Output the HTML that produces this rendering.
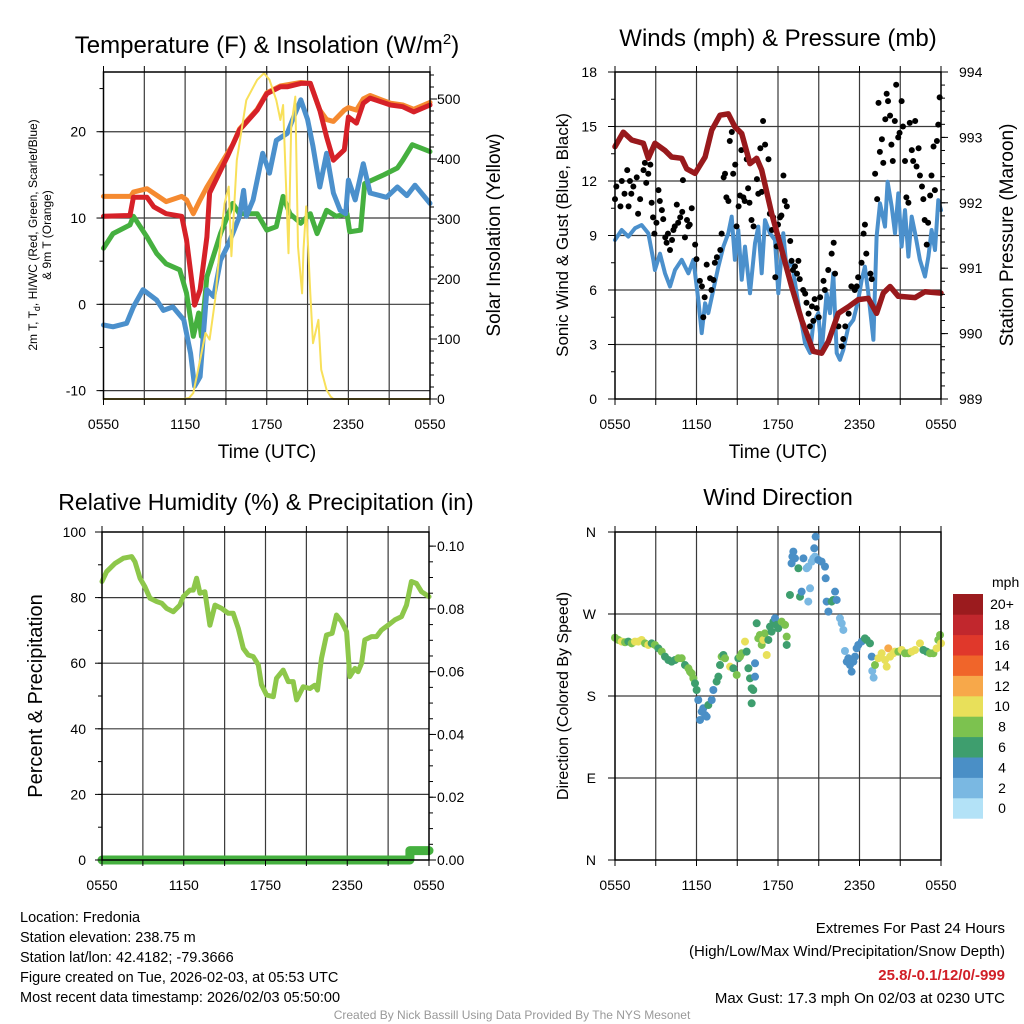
<!DOCTYPE html>
<html><head><meta charset="utf-8"><style>
html,body{margin:0;padding:0;background:#fff;}
svg{display:block;font-family:"Liberation Sans",Arial,sans-serif;}
</style></head><body>
<svg id="fig" xmlns="http://www.w3.org/2000/svg" width="1024" height="1024" viewBox="0 0 1024 1024">
<rect width="1024" height="1024" fill="#fff"/>
<g id="layer"></g>
<text x="267" y="53" font-size="24" text-anchor="middle">Temperature (F) &amp; Insolation (W/m<tspan font-size="15" dy="-9">2</tspan><tspan dy="9">)</tspan></text>
<text x="778" y="46" font-size="24" text-anchor="middle">Winds (mph) &amp; Pressure (mb)</text>
<text x="266" y="510" font-size="23" text-anchor="middle">Relative Humidity (%) &amp; Precipitation (in)</text>
<text x="778" y="505" font-size="23" text-anchor="middle">Wind Direction</text>
<text x="267" y="458" font-size="19" text-anchor="middle">Time (UTC)</text>
<text x="778" y="458" font-size="19" text-anchor="middle">Time (UTC)</text>
<text transform="translate(37,235) rotate(-90)" font-size="12" text-anchor="middle">2m T, T<tspan font-size="9" dy="3">d</tspan><tspan dy="-3">, HI/WC (Red, Green, Scarlet/Blue)</tspan></text>
<text transform="translate(51,235) rotate(-90)" font-size="12" text-anchor="middle">&amp; 9m T (Orange)</text>
<text transform="translate(500,235) rotate(-90)" font-size="19" text-anchor="middle">Solar Insolation (Yellow)</text>
<text transform="translate(568,235) rotate(-90)" font-size="17" text-anchor="middle">Sonic Wind &amp; Gust (Blue, Black)</text>
<text transform="translate(1013,235) rotate(-90)" font-size="19" text-anchor="middle">Station Pressure (Maroon)</text>
<text transform="translate(42,696) rotate(-90)" font-size="20" text-anchor="middle">Percent &amp; Precipitation</text>
<text transform="translate(568,696) rotate(-90)" font-size="16" text-anchor="middle">Direction (Colored By Speed)</text>
<text x="992" y="587" font-size="14">mph</text>
<g font-size="14.5" fill="#000">
<text x="20" y="922">Location: Fredonia</text>
<text x="20" y="942">Station elevation: 238.75 m</text>
<text x="20" y="962">Station lat/lon: 42.4182; -79.3666</text>
<text x="20" y="982">Figure created on Tue, 2026-02-03, at 05:53 UTC</text>
<text x="20" y="1002">Most recent data timestamp: 2026/02/03 05:50:00</text>
</g>
<g font-size="15" text-anchor="end">
<text x="1005" y="933">Extremes For Past 24 Hours</text>
<text x="1005" y="956">(High/Low/Max Wind/Precipitation/Snow Depth)</text>
<text x="1005" y="980" fill="#d11f27" font-weight="bold">25.8/-0.1/12/0/-999</text>
<text x="1005" y="1003">Max Gust: 17.3 mph On 02/03 at 0230 UTC</text>
</g>
<text x="512" y="1019" font-size="12" fill="#999" text-anchor="middle">Created By Nick Bassill Using Data Provided By The NYS Mesonet</text>
</svg>
<script>
// ---------- data ----------
const xTickLabels = ["0550","1150","1750","2350","0550"];
const redT = [0,1.95,2.2,3.2,3.7,4.6,5.75,6.1,6.6,6.7,7.1,7.6,7.8,9.1,10.0,11.3,12.0,13.0,13.5,14.5,15.2,15.9,16.4,16.9,17.7,18.0,18.6,19.1,19.6,21.1,22.0,22.8,24];
const redV = [10.2,10.3,12.4,12.4,11.3,10.5,10.2,7.5,1.3,-0.1,1.7,7.8,12.9,17.1,20.2,22.5,24.4,25.2,25.2,25.6,25.6,22.5,19.4,16.7,17.9,21.7,21.0,23.3,23.9,23.1,22.9,22.3,23.1];
const orangeT = [0,2.0,2.2,3.2,4.6,5.75,6.1,6.6,7.1,7.6,8.5,9.5,10.0,11.3,12.0,13.0,14.5,15.2,15.9,16.4,16.9,17.7,18.0,18.6,19.1,19.6,21.1,22.0,22.8,24];
const orangeV = [12.5,12.5,13.0,13.4,11.9,12.5,12.1,10.5,12.1,13.6,15.9,18.5,20.3,22.6,24.5,25.3,25.7,25.6,22.5,21.4,21.2,22.5,22.8,22.5,23.8,24.2,23.3,23.1,22.6,23.4];
const greenT = [0,0.7,1.95,2.2,3.2,3.9,4.6,5.6,6.1,6.6,7.0,7.2,7.6,8.6,9.5,10.0,11.3,12.0,12.7,13.2,13.7,14.5,15.2,15.7,16.4,17.1,17.9,18.1,18.9,19.2,20.6,21.6,22.0,22.7,24];
const greenV = [6.5,8.2,9.2,10.2,7.8,5.9,4.7,4.0,1.3,-3.7,-1.0,-3.7,3.2,8.2,11.7,10.5,10.5,8.6,9.0,12.5,10.5,9.4,10.5,8.2,10.9,10.2,10.5,8.4,8.6,14.0,15.0,15.8,16.7,18.5,17.7];
const blueT = [0,0.7,1.7,2.2,2.9,3.9,4.4,5.1,5.9,6.4,6.7,7.1,7.6,8.1,8.6,9.1,9.5,10.0,10.3,10.5,11.0,11.7,12.2,12.7,13.5,13.9,14.5,15.0,15.4,15.9,16.4,16.9,17.4,17.8,18.0,18.5,19.1,19.6,20.8,21.6,22.3,22.9,24];
const blueV = [-2.4,-2.6,-2.2,-0.3,1.7,0.5,-0.7,-0.3,-1.8,-5.7,-9.5,-8.4,1.7,0.9,5.1,6.7,8.2,10.2,13.2,10.2,12.1,17.5,15.2,19.0,19.8,21.4,23.7,21.4,18.3,13.6,17.5,12.9,10.9,10.5,14.4,12.1,16.3,12.9,12.4,13.6,12.6,13.8,11.7];
const solarT = [0,5.9,6.3,6.6,7.1,7.5,7.8,8.2,8.6,8.9,9.2,9.4,9.8,10.5,11.3,11.8,12.2,12.7,13.0,13.2,13.6,13.8,14.1,14.3,14.6,14.7,14.9,15.2,15.4,15.8,16.0,16.4,16.7,16.9,24];
const solarV = [0,0,2,10,65,110,99,165,265,326,354,238,398,498,532,543,532,498,465,490,243,454,504,254,176,249,321,176,93,132,49,15,4,0,0];
const tempTicks = [-10,0,10,20];
const solarTicks = [0,100,200,300,400,500];

const presT = [0,0.61,1.23,2.09,2.45,2.94,3.68,4.17,4.91,5.28,5.89,6.63,7.12,7.73,8.34,8.83,9.33,9.94,10.43,10.8,11.53,12.27,13.0,13.74,14.6,15.21,15.71,16.44,17.18,17.91,18.65,19.26,19.75,20.25,20.86,22.09,22.82,24];
const presV = [992.86,993.08,992.96,992.91,992.68,992.91,992.80,992.70,992.68,992.52,992.45,992.70,993.11,993.34,993.36,993.16,993.06,992.60,992.68,992.50,991.84,991.28,990.72,990.21,989.73,989.70,989.88,990.31,990.41,990.52,990.54,990.31,990.62,990.72,990.57,990.55,990.64,990.62];
const windT = [0,0.49,0.98,1.47,1.96,2.45,2.82,2.94,3.31,3.68,4.05,4.42,4.91,5.4,5.77,6.13,6.38,6.63,6.87,7.24,7.61,7.98,8.34,8.59,8.83,9.08,9.33,9.57,9.94,10.31,10.55,10.8,11.04,11.41,11.78,12.02,12.39,12.64,13.0,13.37,13.74,13.99,14.36,14.6,14.97,15.21,15.58,15.83,16.07,16.32,16.56,16.81,17.18,17.55,17.91,18.16,18.4,18.65,19.02,19.26,19.51,19.88,20.07,20.37,20.61,20.86,21.1,21.35,21.6,21.84,22.09,22.45,22.82,23.07,23.31,23.56,23.8,24];
const windV = [8.75,9.3,8.94,9.4,9.58,9.12,7.66,7.1,8.0,6.92,6.19,7.1,7.66,6.92,7.66,5.46,3.63,5.27,4.73,6.0,7.29,8.39,9.12,10.04,7.66,9.3,6.56,8.39,5.82,8.57,9.49,6.92,9.85,9.12,8.75,5.82,9.12,7.1,7.66,5.82,4.18,3.08,2.53,4.18,4.73,2.53,5.82,4.73,6.92,2.53,2.16,2.71,3.99,4.36,5.46,6.56,7.29,5.82,3.26,8.94,10.77,9.49,11.96,10.59,9.12,11.32,8.39,10.4,7.84,10.04,9.12,7.66,6.74,7.84,9.3,8.2,10.95,10.4];
const gustT = [0,0.1,0.4,0.5,0.7,0.9,1.0,1.1,1.2,1.35,1.6,1.7,1.85,2.1,2.2,2.3,2.45,2.6,2.7,2.8,2.9,3.05,3.2,3.3,3.45,3.55,3.7,3.8,3.9,4.05,4.2,4.3,4.4,4.55,4.65,4.8,4.95,5.15,5.3,5.4,5.5,5.65,5.0,5.9,6.0,6.25,6.4,6.5,6.6,6.75,7.0,7.1,7.25,7.35,7.5,7.75,7.85,8.0,8.1,8.2,8.35,8.45,8.6,8.7,8.85,8.95,9.1,9.2,9.3,9.45,9.55,9.7,9.8,9.9,10.05,10.2,10.45,10.55,10.7,10.8,10.9,11.05,11.3,11.4,11.55,11.65,11.8,11.9,12.0,12.15,12.25,12.4,12.5,12.65,12.9,13.0,13.1,13.25,13.4,13.5,13.6,13.85,14.0,14.1,14.25,14.35,14.5,14.6,14.7,14.85,15.0,15.1,15.35,15.45,15.7,15.95,16.1,16.2,16.45,16.7,16.8,16.95,17.2,17.4,17.65,17.8,17.9,18.15,18.3,18.4,18.5,18.8,18.9,19.15,19.3,19.4,19.5,19.65,19.75,19.9,20.0,20.1,20.25,20.35,20.45,20.6,20.7,20.85,20.95,21.1,21.2,21.35,21.45,21.6,21.7,21.85,21.95,22.1,22.2,22.35,22.45,22.6,22.7,22.8,22.95,23.05,23.2,23.3,23.45,23.55,23.7,23.8,23.9];
const gustV = [11.0,11.7,10.6,12.0,11.3,12.6,10.6,12.0,11.3,11.7,12.2,10.2,11.0,12.6,13.0,11.9,12.4,12.9,10.8,10.0,9.1,9.7,11.5,10.9,10.4,9.9,8.9,8.6,9.1,8.2,8.75,9.3,9.5,10.7,9.7,10.0,10.3,8.9,9.85,9.5,9.6,10.5,12.05,8.5,7.7,6.5,6.2,4.5,5.6,7.4,6.65,6.0,6.55,7.5,7.8,8.2,9.1,12.2,12.4,11.1,10.9,14.2,14.7,12.4,12.9,9.5,10.6,11.2,13.7,11.1,10.9,13.2,11.6,10.8,9.85,9.5,12.1,11.3,13.8,11.4,15.3,14.0,13.2,10.2,9.3,10.0,6.7,8.4,9.6,10.0,10.1,12.3,10.9,10.6,8.7,7.6,7.1,7.3,6.9,7.6,6.6,6.0,5.8,5.3,4.7,4.0,5.1,4.3,5.5,5.0,4.5,5.6,6.5,6.0,7.1,8.0,8.6,6.9,4.0,2.9,3.3,4.0,4.7,6.2,6.0,6.2,6.7,7.5,9.1,9.6,8.0,6.9,6.6,12.4,11.0,16.3,13.6,14.3,13.0,15.4,16.8,16.4,15.6,14.0,13.1,15.3,17.3,14.4,14.65,16.4,15.0,13.1,11.1,10.8,15.2,13.7,13.1,15.3,12.8,13.8,12.3,11.7,11.0,9.85,8.5,9.7,11.2,12.3,13.9,11.5,14.2,15.1,16.6];
const windTicks = [0,3,6,9,12,15,18];
const presTicks = [989,990,991,992,993,994];

const rhT = [0,0.34,0.95,1.56,2.18,2.42,2.79,3.15,3.52,4.01,4.38,4.74,5.23,5.72,5.97,6.45,6.7,6.94,7.19,7.55,7.92,8.29,8.78,9.27,9.63,10.0,10.37,10.73,11.1,11.47,11.71,12.08,12.57,12.81,13.3,13.67,14.03,14.28,14.77,15.26,15.62,15.82,16.11,16.48,16.89,17.21,17.58,17.95,18.19,18.56,18.8,19.05,19.29,19.78,20.15,20.51,21.0,21.49,21.98,22.35,22.71,23.08,23.45,24];
const rhV = [84.9,87.9,90.4,92.0,92.5,90.9,85.9,83.3,79.8,78.8,78.3,76.7,75.7,77.7,80.3,82.3,82.3,85.9,81.3,81.8,71.6,77.7,76.7,75.2,75.2,70.6,64.5,62.5,62.0,59.5,53.4,50.3,49.8,55.4,57.9,54.4,54.4,48.8,52.8,52.3,53.3,51.8,61.5,68.6,69.1,74.7,72.7,69.6,55.9,58.4,57.4,60.0,67.1,68.1,68.1,70.1,71.6,73.2,74.2,77.7,84.9,84.3,81.8,80.3];
const precipT = [0,22.6,22.6,24];
const precipV = [0,0,0.003,0.003];
const rhTicks = [0,20,40,60,80,100];
const precipTicks = ["0.00","0.02","0.04","0.06","0.08","0.10"];

const dirT = [0,0.25,0.49,0.74,0.98,1.23,1.47,1.72,1.96,2.21,2.45,2.7,2.94,3.19,3.44,3.68,3.93,4.17,4.42,4.66,4.91,5.15,5.4,5.52,5.64,5.77,5.89,6.01,6.13,6.26,6.38,6.5,6.63,6.75,6.87,7.12,7.24,7.48,7.61,7.73,7.85,7.98,8.1,8.47,8.71,8.96,9.08,9.2,9.33,9.57,9.69,9.82,9.94,10.06,10.06,10.18,10.31,10.31,10.43,10.55,10.67,10.8,10.92,11.04,11.17,11.29,11.41,11.53,11.66,11.78,11.9,12.02,12.27,12.52,12.64,12.64,12.88,13.0,13.06,13.13,13.25,13.5,13.62,13.74,13.87,14.11,14.23,14.36,14.23,14.48,14.6,14.72,14.67,14.77,14.97,15.21,15.46,15.51,15.58,15.71,15.95,16.07,16.2,16.32,16.56,16.69,16.81,16.93,17.06,17.18,17.3,17.42,17.55,17.67,17.79,17.91,18.16,18.4,18.53,18.77,18.9,18.94,19.04,19.14,19.39,19.63,19.88,20.0,20.12,20.25,20.49,20.61,20.86,21.1,21.35,21.6,21.84,22.09,22.45,22.7,22.94,23.19,23.44,23.68,23.8,23.93,24];
const dirD = [244,241.5,239.7,239,239.7,237.8,239.7,239.7,241.5,237.8,236,237.8,236,232.3,228.7,223.2,219.5,217.7,219.5,221.4,221.4,214,210.4,206.7,204.9,199.4,193.9,186.6,175.6,153.7,162.8,166.5,159.2,157.3,170.1,175.6,186.6,195.8,201.2,214,223.2,225,221.4,212.2,210.4,203.1,221.4,223.2,226.9,239.7,228.7,210.4,199.4,188.4,172,186.6,201.2,215.9,259.8,243.3,247,236,241.5,248.8,225,241.5,256.1,250.6,261.6,265.3,258,254.3,261.6,258,245.1,236,290.9,325.6,333,338.5,331.1,320.2,289,294.5,331.1,320.2,322,298.2,283.6,327.5,331.1,333,342.1,354.9,329.3,327.5,322,309.2,283.6,272.6,283.6,285.4,294.5,285.4,265.3,259.8,252.5,229.4,217.7,221.4,214,206.7,217.7,223.2,232.3,236,239.7,243.3,241.5,237.8,223.2,207.5,200.1,214,221.4,226.9,219.5,212.2,232.3,223.2,226.9,228.7,228.7,230.5,226.9,226.9,228.7,230.5,237.8,230.5,228.7,226.9,226.9,232.3,241.5,247,237.8];
const dirS = [9,9,11,9,7,9,11,11,11,9,11,7,9,7,9,7,7,7,7,9,9,7,9,9,9,9,7,7,5,5,5,5,5,5,7,5,5,7,7,7,9,7,9,11,7,9,7,9,9,11,7,7,7,7,7,7,5,5,7,9,9,9,11,9,11,7,7,7,7,5,7,7,9,9,9,7,7,5,5,5,5,7,7,5,5,3,3,3,3,3,3,3,5,5,5,5,5,5,5,5,7,7,5,5,3,3,3,3,5,5,5,5,5,5,5,5,5,7,7,7,5,3,3,9,11,11,11,11,13,11,11,11,9,11,9,9,11,11,11,7,7,9,9,11,9,9,11];
const dirTickLabels = ["N","E","S","W","N"];
const speedBins = ["0","2","4","6","8","10","12","14","16","18","20+"];
const speedColors = ["#b3e2f7","#7ab8e2","#4a8fc6","#3e9e6e","#7cc24f","#e8e05a","#f7a84a","#f0652a","#e0382b","#c1272d","#9b1b1e"];

// ---------- helpers ----------
const NS = "http://www.w3.org/2000/svg";
const layer = document.getElementById("layer");
function el(tag, attrs, parent) {
  const e = document.createElementNS(NS, tag);
  for (const k in attrs) e.setAttribute(k, attrs[k]);
  (parent || layer).appendChild(e);
  return e;
}
function scale(d0, d1, r0, r1) { return v => r0 + (v - d0) / (d1 - d0) * (r1 - r0); }
function pathFrom(xs, ys, sx, sy) {
  let d = "";
  for (let i = 0; i < xs.length; i++) d += (i ? "L" : "M") + sx(xs[i]).toFixed(1) + "," + sy(ys[i]).toFixed(1);
  return d;
}

function panel(name, box) {
  const g = el("g", {});
  
  
  return g;
}
function grid(g, box, sx, sy, hVals, name) {
  for (let h = 3; h < 24; h += 3) {
    const l = el("line", {x1: sx(h), x2: sx(h), y1: box.y0, y2: box.y1, stroke: "#3a3a3a", "stroke-width": 1.2}, g);
    
    
  }
  hVals.forEach(v => {
    const l = el("line", {x1: box.x0, x2: box.x1, y1: sy(v), y2: sy(v), stroke: "#3a3a3a", "stroke-width": 1.2}, g);
    
    
  });
}
function frame(g, box, name) {
  const r = el("rect", {x: box.x0, y: box.y0, width: box.x1 - box.x0, height: box.y1 - box.y0, fill: "none", stroke: "#000", "stroke-width": 1.5}, g);
  
  
}
function xAxis(g, box, sx, labelY, name) {
  for (let h = 0; h <= 24; h += 3) {
    el("line", {x1: sx(h), x2: sx(h), y1: box.y1, y2: box.y1 + 6, stroke: "#000", "stroke-width": 1}, g);
    el("line", {x1: sx(h), x2: sx(h), y1: box.y0, y2: box.y0 - 6, stroke: "#000", "stroke-width": 1}, g);
  }
  xTickLabels.forEach((s, i) => {
    const t = el("text", {x: sx(i * 6), y: labelY, "font-size": 14, "text-anchor": "middle"}, g);
    t.textContent = s;
    
    
  });
}
function yTicks(g, x, dir, sy, lo, hi, step, len) {
  for (let v = lo; v <= hi + 1e-9; v += step) {
    el("line", {x1: x, x2: x + dir * len, y1: sy(v), y2: sy(v), stroke: "#000", "stroke-width": 1}, g);
  }
}
function yLabel(g, x, y, s, anchor, name) {
  const t = el("text", {x: x, y: y + 5, "font-size": 14, "text-anchor": anchor}, g);
  t.textContent = s;
  
  
}
function line(g, xs, ys, sx, sy, color, w, name) {
  const p = el("path", {d: pathFrom(xs, ys, sx, sy), fill: "none", stroke: color, "stroke-width": w, "stroke-linejoin": "round", "stroke-linecap": "round"}, g);
  
  
}

// ---------- Panel 1: temperature ----------
(function () {
  const box = {x0: 103.5, x1: 430, y0: 72, y1: 399};
  const g = panel("temperature", box);
  const sx = scale(0, 24, box.x0, box.x1);
  const sy = scale(-10.97, 26.92, box.y1, box.y0);
  const sy2 = scale(0, 545, box.y1, box.y0);
  grid(g, box, sx, sy, tempTicks, "temperature");
  line(g, greenT, greenV, sx, sy, "#45b03f", 5, "dewpoint-line");
  line(g, blueT, blueV, sx, sy, "#4b90cc", 5, "heat-index-wind-chill-line");
  line(g, orangeT, orangeV, sx, sy, "#f58a30", 5, "temperature-9m-line");
  line(g, redT, redV, sx, sy, "#d62128", 5, "temperature-2m-line");
  line(g, solarT, solarV, sx, sy2, "#f8e05a", 2, "solar-insolation-line");
  frame(g, box, "temperature");
  xAxis(g, box, sx, 429, "temperature");
  yTicks(g, box.x0, -1, sy, -10, 25, 5, 4);
  yTicks(g, box.x0, -1, sy, -10, 20, 10, 7);
  yTicks(g, box.x1, 1, sy2, 0, 540, 20, 4);
  yTicks(g, box.x1, 1, sy2, 0, 500, 100, 7);
  tempTicks.forEach(v => yLabel(g, 86, sy(v), String(v), "end", "temperature-y-tick-label"));
  solarTicks.forEach(v => yLabel(g, 437, sy2(v), String(v), "start", "insolation-y-tick-label"));
})();

// ---------- Panel 2: winds & pressure ----------
(function () {
  const box = {x0: 615, x1: 941, y0: 72, y1: 399};
  const g = panel("winds", box);
  const sx = scale(0, 24, box.x0, box.x1);
  const sy = scale(0, 18, box.y1, box.y0);
  const sy2 = scale(989, 994, box.y1, box.y0);
  grid(g, box, sx, sy, [3, 6, 9, 12, 15], "winds");
  line(g, windT, windV, sx, sy, "#4b90cc", 4, "sonic-wind-line");
  gustT.forEach((t, i) => {
    const c = el("circle", {cx: sx(t), cy: sy(gustV[i]), r: 3, fill: "#000"}, g);
    
    
  });
  line(g, presT, presV, sx, sy2, "#98191c", 5.5, "station-pressure-line");
  frame(g, box, "winds");
  xAxis(g, box, sx, 429, "winds");
  yTicks(g, box.x0, -1, sy, 0, 18, 1.5, 4);
  yTicks(g, box.x0, -1, sy, 0, 18, 3, 7);
  yTicks(g, box.x1, 1, sy2, 989, 994, 0.2, 4);
  yTicks(g, box.x1, 1, sy2, 989, 994, 1, 7);
  windTicks.forEach(v => yLabel(g, 597, sy(v), String(v), "end", "wind-y-tick-label"));
  presTicks.forEach(v => yLabel(g, 959, sy2(v), String(v), "start", "pressure-y-tick-label"));
})();

// ---------- Panel 3: RH & precip ----------
(function () {
  const box = {x0: 102, x1: 429, y0: 532, y1: 860};
  const g = panel("humidity", box);
  const sx = scale(0, 24, box.x0, box.x1);
  const sy = scale(0, 100, box.y1, box.y0);
  const sy2 = scale(0, 0.1045, box.y1, box.y0);
  grid(g, box, sx, sy, [20, 40, 60, 80], "humidity");
  line(g, rhT, rhV, sx, sy, "#8dc74a", 5, "relative-humidity-line");
  line(g, precipT, precipV, sx, sy2, "#45b03f", 9, "precipitation-line");
  frame(g, box, "humidity");
  xAxis(g, box, sx, 890, "humidity");
  yTicks(g, box.x0, -1, sy, 0, 100, 10, 4);
  yTicks(g, box.x0, -1, sy, 0, 100, 20, 7);
  yTicks(g, box.x1, 1, sy2, 0, 0.1, 0.005, 4);
  yTicks(g, box.x1, 1, sy2, 0, 0.1, 0.02, 7);
  rhTicks.forEach(v => yLabel(g, 86, sy(v), String(v), "end", "humidity-y-tick-label"));
  precipTicks.forEach(s => yLabel(g, 437, sy2(parseFloat(s)), s, "start", "precip-y-tick-label"));
})();

// ---------- Panel 4: wind direction ----------
(function () {
  const box = {x0: 615, x1: 941, y0: 532, y1: 860};
  const g = panel("direction", box);
  const sx = scale(0, 24, box.x0, box.x1);
  const sy = scale(0, 360, box.y1, box.y0);
  grid(g, box, sx, sy, [90, 180, 270], "direction");
  dirT.forEach((t, i) => {
    const bin = Math.min(10, Math.floor(dirS[i] / 2));
    const c = el("circle", {cx: sx(t), cy: sy(dirD[i]), r: 4, fill: speedColors[bin]}, g);
    
    
  });
  frame(g, box, "direction");
  xAxis(g, box, sx, 890, "direction");
  yTicks(g, box.x0, -1, sy, 0, 360, 90, 7);
  dirTickLabels.forEach((s, i) => yLabel(g, 596, sy(i * 90), s, "end", "direction-y-tick-label"));
  // colorbar
  const cb = el("g", {});
  
  
  const h = 20.4;
  speedColors.forEach((col, i) => {
    const y = 594 + (10 - i) * h;
    const r = el("rect", {x: 953, y: y, width: 30, height: h + 0.3, fill: col}, cb);
    
    
    const t = el("text", {x: 1002, y: y + h / 2 + 5, "font-size": 14, "text-anchor": "middle"}, cb);
    t.textContent = speedBins[i];
    
    
  });
})();
</script>
</body></html>
